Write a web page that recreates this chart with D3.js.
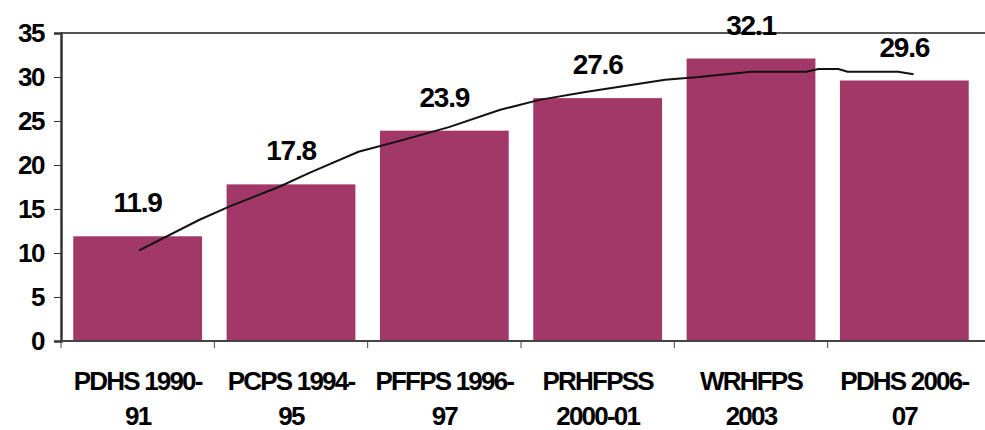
<!DOCTYPE html>
<html>
<head>
<meta charset="utf-8">
<script src="https://cdn.jsdelivr.net/npm/d3@7"></script>
<style>
  body { margin: 0; background: #fff; }
  text { font-family: "Liberation Sans", Arial, sans-serif; font-weight: bold; fill: #000; }
</style>
</head>
<body>
<svg id="chart" width="985" height="430"></svg>
<script>
// survey names, split in two lines like the original axis
const surveys = [
  ["PDHS 1990-", "91"],
  ["PCPS 1994-", "95"],
  ["PFFPS 1996-", "97"],
  ["PRHFPSS", "2000-01"],
  ["WRHFPS", "2003"],
  ["PDHS 2006-", "07"]
];
const rates = [11.9, 17.8, 23.9, 27.6, 32.1, 29.6];
const yTicks = [0, 5, 10, 15, 20, 25, 30, 35];

// trendline: [position in category units, value]
const trendPos = [0.01, 0.40, 0.60, 0.92, 1.12, 1.44, 1.72, 2.03, 2.36, 2.62, 2.92, 3.44, 3.66, 4.00, 4.36, 4.44, 4.57, 4.63, 4.96, 5.06];
const trendVal = [10.3, 13.75, 15.3, 17.5, 19.1, 21.5, 22.8, 24.3, 26.25, 27.4, 28.3, 29.7, 30.0, 30.6, 30.6, 30.9, 30.9, 30.6, 30.6, 30.3];

const svg = d3.select("#chart");
const mLeft = 61, mRight = 981, mTop = 33, mBottom = 341;

const x = d3.scaleBand()
  .domain(d3.range(rates.length))
  .range([mLeft, mRight])
  .paddingInner(0.16)
  .paddingOuter(0.08);

const y = d3.scaleLinear().domain([0, 35]).range([mBottom, mTop]);

// category units -> pixel centre
const step = (mRight - mLeft) / rates.length;
const xPos = v => mLeft + (v + 0.5) * step;

// top border of plot area
svg.append("line")
  .attr("x1", mLeft).attr("x2", 985)
  .attr("y1", mTop).attr("y2", mTop)
  .attr("stroke", "#555").attr("stroke-width", 2);

// bars
svg.selectAll(".bar")
  .data(rates)
  .join("rect")
  .attr("class", "bar")
  .attr("x", (d, i) => x(i))
  .attr("width", x.bandwidth())
  .attr("y", d => y(d))
  .attr("height", d => y(0) - y(d))
  .attr("fill", "#A23868");

// value labels
svg.selectAll(".val")
  .data(rates)
  .join("text")
  .attr("class", "val")
  .attr("x", (d, i) => x(i) + x.bandwidth() / 2)
  .attr("y", d => y(d) - 24)
  .attr("text-anchor", "middle")
  .attr("font-size", 28)
  .attr("letter-spacing", -1.2)
  .text(d => d.toFixed(1));

// trendline
const trend = trendPos.map((p, i) => [p, trendVal[i]]);
svg.append("path")
  .datum(trend)
  .attr("fill", "none")
  .attr("stroke", "#111")
  .attr("stroke-width", 2)
  .attr("d", d3.line().x(d => xPos(d[0])).y(d => y(d[1])));

// y axis
const yAxis = svg.append("g")
  .attr("transform", `translate(${mLeft},0)`)
  .call(d3.axisLeft(y).tickValues(yTicks).tickSize(7).tickPadding(10));
yAxis.select(".domain").attr("stroke", "#333").attr("stroke-width", 2.5);
yAxis.selectAll(".tick line").attr("stroke", "#333");
yAxis.selectAll(".tick text")
  .attr("font-size", 26)
  .attr("letter-spacing", -1.5)
  .attr("font-family", "Liberation Sans, Arial, sans-serif")
  .attr("font-weight", "bold");

// x axis line with boundary ticks
svg.append("line")
  .attr("x1", mLeft).attr("x2", 985)
  .attr("y1", mBottom).attr("y2", mBottom)
  .attr("stroke", "#444").attr("stroke-width", 2);
svg.selectAll(".xtick")
  .data(d3.range(rates.length))
  .join("line")
  .attr("class", "xtick")
  .attr("x1", i => mLeft + i * step).attr("x2", i => mLeft + i * step)
  .attr("y1", mBottom).attr("y2", mBottom + 7)
  .attr("stroke", "#444");

// category labels
const lab = svg.selectAll(".cat")
  .data(surveys)
  .join("text")
  .attr("class", "cat")
  .attr("text-anchor", "middle")
  .attr("font-size", 26)
  .attr("letter-spacing", -1.8);
lab.append("tspan")
  .attr("x", (d, i) => x(i) + x.bandwidth() / 2)
  .attr("y", 390)
  .text(d => d[0]);
lab.append("tspan")
  .attr("x", (d, i) => x(i) + x.bandwidth() / 2)
  .attr("y", 425)
  .text(d => d[1]);
</script>
</body>
</html>
